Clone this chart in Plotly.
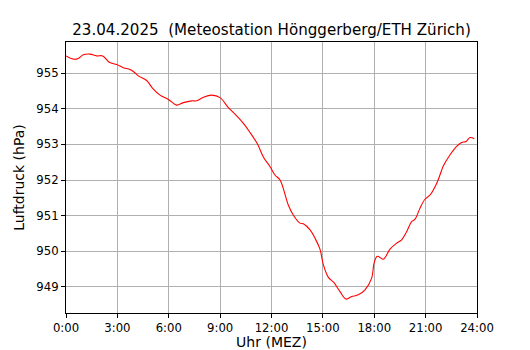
import plotly.graph_objects as go

# time in hours after midnight (MEZ)
hours = [0.0, 0.43, 0.72, 1.01, 1.4, 1.79, 2.14, 2.53, 2.96, 3.35, 3.74, 3.97, 4.22, 4.71,
         5.06, 5.49, 5.98, 6.46, 6.85, 7.34, 7.63, 8.02, 8.51, 9.0, 9.48, 9.87, 10.36,
         10.75, 11.18, 11.53, 11.91, 12.2, 12.5, 12.98, 13.27, 13.66, 13.86, 14.25, 14.54,
         14.83, 15.03, 15.32, 15.65, 16.0, 16.35, 16.68, 17.07, 17.46, 17.85, 17.99, 18.18,
         18.53, 18.92, 19.31, 19.6, 19.89, 20.18, 20.38, 20.67, 20.96, 21.26, 21.65, 21.94,
         22.03, 22.42, 22.81, 23.1, 23.36, 23.59, 23.84]
pressure = [955.48, 955.39, 955.41, 955.51, 955.53, 955.48, 955.48, 955.30, 955.24, 955.15,
            955.10, 955.03, 954.92, 954.79, 954.57, 954.38, 954.26, 954.10, 954.17, 954.22,
            954.22, 954.32, 954.38, 954.31, 954.03, 953.85, 953.59, 953.33, 953.01, 952.64,
            952.38, 952.14, 952.00, 951.30, 951.02, 950.79, 950.77, 950.60, 950.37, 950.06,
            949.62, 949.27, 949.12, 948.87, 948.66, 948.73, 948.78, 948.92, 949.25, 949.67,
            949.86, 949.78, 950.06, 950.23, 950.32, 950.55, 950.83, 950.90, 951.21, 951.46,
            951.58, 951.91, 952.28, 952.39, 952.70, 952.94, 953.05, 953.08, 953.19, 953.16]

x_tick_vals = [0, 3, 6, 9, 12, 15, 18, 21, 24]
x_tick_text = ["0:00", "3:00", "6:00", "9:00", "12:00", "15:00", "18:00", "21:00", "24:00"]
y_tick_vals = [949, 950, 951, 952, 953, 954, 955]

title_text = "23.04.2025  (Meteostation Hönggerberg/ETH Zürich)"
x_label = "Uhr (MEZ)"
y_label = "Luftdruck (hPa)"

fig = go.Figure()
fig.add_trace(go.Scatter(x=hours, y=pressure, mode="lines",
                         line=dict(color="#ff0000", width=1.1), line_shape="spline",
                         showlegend=False))

font_family = "DejaVu Sans"
W, H, OFF = 522, 342, 8
fig.update_layout(
    width=W, height=H,
    margin=dict(l=66 - OFF, r=53, t=42 - OFF, b=37, autoexpand=False),
    paper_bgcolor="white", plot_bgcolor="white",
    font=dict(family=font_family, size=11.7, color="black"),
    title=dict(text=title_text, x=0.5, xref="paper", xanchor="center",
               y=1 - (29.5 - OFF) / H, yref="container", yanchor="middle",
               font=dict(family=font_family, size=15.1, color="black")),
)
fig.update_xaxes(
    range=[0, 24], tickvals=x_tick_vals, ticktext=x_tick_text,
    showgrid=True, gridcolor="#b0b0b0", gridwidth=1,
    showline=True, linecolor="black", linewidth=1, mirror=True,
    ticks="outside", ticklen=4, tickcolor="black", zeroline=False,
    title=dict(text=x_label, standoff=3),
)
fig.update_yaxes(
    range=[948.27, 955.87], tickvals=y_tick_vals,
    showgrid=True, gridcolor="#b0b0b0", gridwidth=1,
    showline=True, linecolor="black", linewidth=1, mirror=True,
    ticks="outside", ticklen=4, tickcolor="black", zeroline=False,
    title=dict(text=y_label, standoff=8),
)

fig.write_html("out.html")
